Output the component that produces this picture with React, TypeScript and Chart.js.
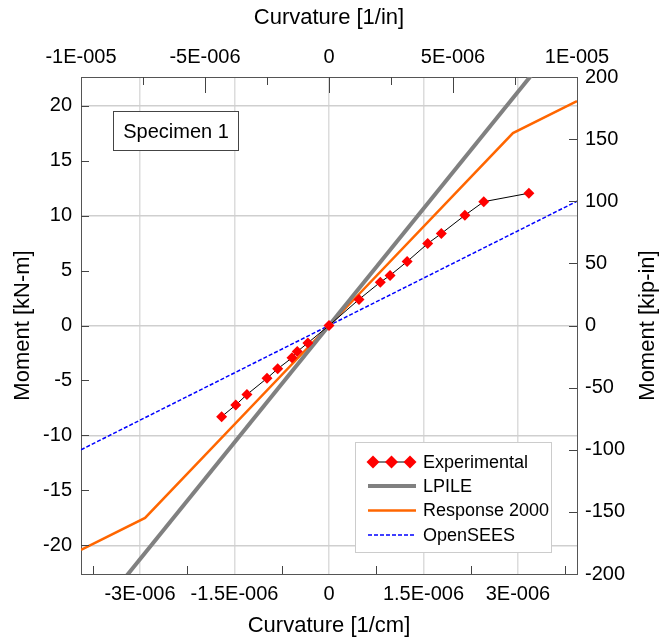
import React, { useEffect, useRef } from 'react';
import { Chart, registerables } from 'chart.js';

Chart.register(...registerables);

const FONT = '"Liberation Sans", Arial, Helvetica, sans-serif';

// ---- Data (curvature in 1/cm, moment in kN-m) ----
const expCurvature = [
  -1.705e-6, -1.48e-6, -1.303e-6, -0.984e-6, -0.815e-6, -0.587e-6, -0.504e-6, -0.335e-6, 0,
  0.476e-6, 0.815e-6, 0.969e-6, 1.24e-6, 1.567e-6, 1.783e-6, 2.157e-6, 2.457e-6, 3.173e-6,
];
const expMoment = [
  -8.29, -7.23, -6.28, -4.8, -3.94, -2.94, -2.37, -1.58, 0,
  2.37, 3.94, 4.55, 5.81, 7.45, 8.36, 10.02, 11.26, 12.03,
];
const lpileCurvature = [-3.6e-6, 0, 3.6e-6];
const lpileMoment = [-25.5, 0, 25.5];
const r2kCurvature = [-3.937e-6, -2.92e-6, 0, 2.92e-6, 3.937e-6];
const r2kMoment = [-20.4, -17.5, 0, 17.5, 20.4];
const openseesCurvature = [-3.937e-6, 0, 3.937e-6];
const openseesMoment = [-11.3, 0, 11.3];

// ---- Axes ----
const CM_PER_IN = 2.54;
const KIPIN_PER_KNM = 8.8507;
const cmTicks = [-3e-6, -1.5e-6, 0, 1.5e-6, 3e-6];
const inTicks = [-1e-5, -5e-6, 0, 5e-6, 1e-5];
const knmTicks = [-20, -15, -10, -5, 0, 5, 10, 15, 20];
const kipTicks = [-200, -150, -100, -50, 0, 50, 100, 150, 200];
const cmMinorTicks = [-3.75e-6, -2.25e-6, -0.75e-6, 0.75e-6, 2.25e-6, 3.75e-6];
const inMinorTicks = [-7.5e-6, -2.5e-6, 2.5e-6, 7.5e-6];
const inMajorTicks = [-5e-6, 0, 5e-6];
const knmMarkTicks = [-20, -15, -10, -5, 0, 5, 10, 15, 20];
const kipMarkTicks = [-150, -100, -50, 0, 50, 100, 150];

const legendLabels = ['Experimental', 'LPILE', 'Response 2000', 'OpenSEES'];

function sci(v: number): string {
  if (Math.abs(v) < 1e-15) return '0';
  const e = Math.floor(Math.log10(Math.abs(v)) + 1e-9);
  const m = Math.round((v / Math.pow(10, e)) * 100) / 100;
  const es = (e < 0 ? '-' : '+') + String(Math.abs(e)).padStart(3, '0');
  return m + 'E' + es;
}

const pts = (xs: number[], ys: number[]) => xs.map((x, i) => ({ x, y: ys[i] }));

const tickFont = { family: FONT, size: 20 };
const titleFont = { family: FONT, size: 22 };

const decorPlugin = {
  id: 'decor',
  afterDatasetsDraw(chart: any) {
    const { ctx, chartArea: a, scales } = chart;
    ctx.save();
    ctx.strokeStyle = '#444';
    ctx.lineWidth = 1;
    ctx.beginPath();
    const L = 8;
    cmMinorTicks.forEach((v) => {
      const x = Math.round(scales.x.getPixelForValue(v)) + 0.5;
      ctx.moveTo(x, a.bottom);
      ctx.lineTo(x, a.bottom - L);
    });
    inMinorTicks.forEach((v) => {
      const x = Math.round(scales.x2.getPixelForValue(v)) + 0.5;
      ctx.moveTo(x, a.top);
      ctx.lineTo(x, a.top + L);
    });
    inMajorTicks.forEach((v) => {
      const x = Math.round(scales.x2.getPixelForValue(v)) + 0.5;
      ctx.moveTo(x, a.top);
      ctx.lineTo(x, a.top + 16);
    });
    knmMarkTicks.forEach((v) => {
      const y = Math.round(scales.y.getPixelForValue(v)) + 0.5;
      ctx.moveTo(a.left, y);
      ctx.lineTo(a.left + L, y);
    });
    kipMarkTicks.forEach((v) => {
      const y = Math.round(scales.y2.getPixelForValue(v)) + 0.5;
      ctx.moveTo(a.right, y);
      ctx.lineTo(a.right - L, y);
    });
    ctx.stroke();
    ctx.restore();
  },
  afterDraw(chart: any) {
    const { ctx, chartArea: a } = chart;
    ctx.save();
    // right axis title (reads bottom to top)
    ctx.fillStyle = '#000';
    ctx.font = `22px ${FONT}`;
    ctx.textAlign = 'center';
    ctx.textBaseline = 'middle';
    ctx.translate(648, (a.top + a.bottom) / 2);
    ctx.rotate(-Math.PI / 2);
    ctx.fillText('Moment [kip-in]', 0, 0);
    ctx.restore();

    // Specimen box
    ctx.save();
    ctx.fillStyle = '#fff';
    ctx.fillRect(113, 111, 126, 40);
    ctx.strokeStyle = '#444';
    ctx.lineWidth = 1;
    ctx.strokeRect(113.5, 111.5, 125, 39);
    ctx.fillStyle = '#000';
    ctx.font = `20px ${FONT}`;
    ctx.textAlign = 'center';
    ctx.textBaseline = 'middle';
    ctx.fillText('Specimen 1', 176, 132);
    ctx.restore();

    // Legend
    ctx.save();
    const bx = 355, by = 442, bw = 197, bh = 111;
    ctx.fillStyle = '#fff';
    ctx.fillRect(bx, by, bw, bh);
    ctx.strokeStyle = '#cccccc';
    ctx.lineWidth = 1;
    ctx.strokeRect(bx + 0.5, by + 0.5, bw - 1, bh - 1);
    const rows = [462, 486, 510.5, 535];
    const x0 = 368, x1 = 416;
    ctx.font = `18px ${FONT}`;
    ctx.textAlign = 'left';
    ctx.textBaseline = 'middle';
    legendLabels.forEach((lab, i) => {
      const y = rows[i];
      ctx.save();
      if (i === 0) {
        ctx.strokeStyle = '#000';
        ctx.lineWidth = 1;
        ctx.beginPath();
        ctx.moveTo(373, y);
        ctx.lineTo(410, y);
        ctx.stroke();
        ctx.fillStyle = '#ff0000';
        [373, 391.5, 410].forEach((cx) => {
          const r = 6.5;
          ctx.beginPath();
          ctx.moveTo(cx - r, y);
          ctx.lineTo(cx, y - r);
          ctx.lineTo(cx + r, y);
          ctx.lineTo(cx, y + r);
          ctx.closePath();
          ctx.fill();
        });
      } else {
        ctx.beginPath();
        if (i === 1) {
          ctx.strokeStyle = '#808080';
          ctx.lineWidth = 4;
        } else if (i === 2) {
          ctx.strokeStyle = '#ff6600';
          ctx.lineWidth = 2.5;
        } else {
          ctx.strokeStyle = '#0000ff';
          ctx.lineWidth = 1.5;
          ctx.setLineDash([4, 2]);
        }
        ctx.moveTo(x0, y);
        ctx.lineTo(x1, y);
        ctx.stroke();
      }
      ctx.restore();
      ctx.fillStyle = '#000';
      ctx.fillText(lab, 423, y + 1);
    });
    ctx.restore();
  },
};

export default function App() {
  const ref = useRef<HTMLCanvasElement | null>(null);
  useEffect(() => {
    if (!ref.current) return;
    const chart = new Chart(ref.current, {
      type: 'line',
      data: {
        datasets: [
          {
            label: 'Experimental',
            data: pts(expCurvature, expMoment),
            borderColor: '#000000',
            borderWidth: 1,
            backgroundColor: '#ff0000',
            pointStyle: 'rectRot',
            pointRadius: 5.5,
            pointBorderColor: '#ff0000',
            pointBackgroundColor: '#ff0000',
            pointBorderWidth: 0,
            tension: 0,
            clip: 0,
          } as any,
          {
            label: 'LPILE',
            data: pts(lpileCurvature, lpileMoment),
            borderColor: '#808080',
            borderWidth: 4,
            pointRadius: 0,
            tension: 0,
            clip: 0,
          },
          {
            label: 'Response 2000',
            data: pts(r2kCurvature, r2kMoment),
            borderColor: '#ff6600',
            borderWidth: 2.5,
            pointRadius: 0,
            tension: 0,
            clip: 0,
          },
          {
            label: 'OpenSEES',
            data: pts(openseesCurvature, openseesMoment),
            borderColor: '#0000ff',
            borderWidth: 1.5,
            borderDash: [4, 2],
            pointRadius: 0,
            tension: 0,
            clip: 0,
          },
        ],
      },
      options: {
        animation: false,
        responsive: false,
        devicePixelRatio: 1,
        layout: { padding: 0 },
        plugins: { legend: { display: false }, tooltip: { enabled: false } },
        scales: {
          x: {
            type: 'linear',
            position: 'bottom',
            min: -1e-5 / CM_PER_IN,
            max: 1e-5 / CM_PER_IN,
            afterBuildTicks: (s: any) => {
              s.ticks = cmTicks.map((v) => ({ value: v }));
            },
            afterFit: (s: any) => {
              s.height = 66;
            },
            ticks: {
              callback: (v: any) => sci(Number(v)),
              font: tickFont,
              color: '#000',
              padding: 8,
              maxRotation: 0,
              autoSkip: false,
            },
            grid: { color: '#dcdcdc', lineWidth: 1.5, drawTicks: false },
            border: { color: '#555', width: 1 },
            title: {
              display: true,
              text: 'Curvature [1/cm]',
              font: titleFont,
              color: '#000',
              padding: { top: 0, bottom: 1 },
            },
          },
          x2: {
            type: 'linear',
            position: 'top',
            min: -1e-5,
            max: 1e-5,
            afterBuildTicks: (s: any) => {
              s.ticks = inTicks.map((v) => ({ value: v }));
            },
            afterFit: (s: any) => {
              s.height = 77;
            },
            ticks: {
              callback: (v: any) => sci(Number(v)),
              font: tickFont,
              color: '#000',
              padding: 8,
              maxRotation: 0,
              autoSkip: false,
            },
            grid: { display: false, drawOnChartArea: false, drawTicks: false },
            border: { color: '#555', width: 1 },
            title: {
              display: true,
              text: 'Curvature [1/in]',
              font: titleFont,
              color: '#000',
              padding: { top: 5, bottom: 0 },
            },
          },
          y: {
            type: 'linear',
            position: 'left',
            min: -200 / KIPIN_PER_KNM,
            max: 200 / KIPIN_PER_KNM,
            afterBuildTicks: (s: any) => {
              s.ticks = knmTicks.map((v) => ({ value: v }));
            },
            afterFit: (s: any) => {
              s.width = 81;
            },
            ticks: {
              callback: (v: any) => String(v),
              font: tickFont,
              color: '#000',
              padding: 9,
              autoSkip: false,
            },
            grid: {
              color: (c: any) => (c.tick && Math.abs(c.tick.value) % 10 === 0 ? '#cfcfcf' : 'rgba(0,0,0,0)'),
              lineWidth: 1.5,
              drawTicks: false,
            },
            border: { color: '#555', width: 1 },
            title: {
              display: true,
              text: 'Moment [kN-m]',
              font: titleFont,
              color: '#000',
              padding: { top: 10, bottom: 0 },
            },
          },
          y2: {
            type: 'linear',
            position: 'right',
            min: -200,
            max: 200,
            afterBuildTicks: (s: any) => {
              s.ticks = kipTicks.map((v) => ({ value: v }));
            },
            afterFit: (s: any) => {
              s.width = 90;
            },
            ticks: {
              callback: (v: any) => String(v),
              font: tickFont,
              color: '#000',
              padding: 8,
              autoSkip: false,
            },
            grid: { display: false, drawOnChartArea: false, drawTicks: false },
            border: { color: '#555', width: 1 },
          },
        },
      } as any,
      plugins: [decorPlugin],
    });
    return () => chart.destroy();
  }, []);

  return (
    <div style={{ position: 'fixed', left: 0, top: 0, width: 667, height: 640, background: '#fff' }}>
      <canvas ref={ref} width={667} height={640} style={{ width: 667, height: 640, display: 'block' }} />
    </div>
  );
}
